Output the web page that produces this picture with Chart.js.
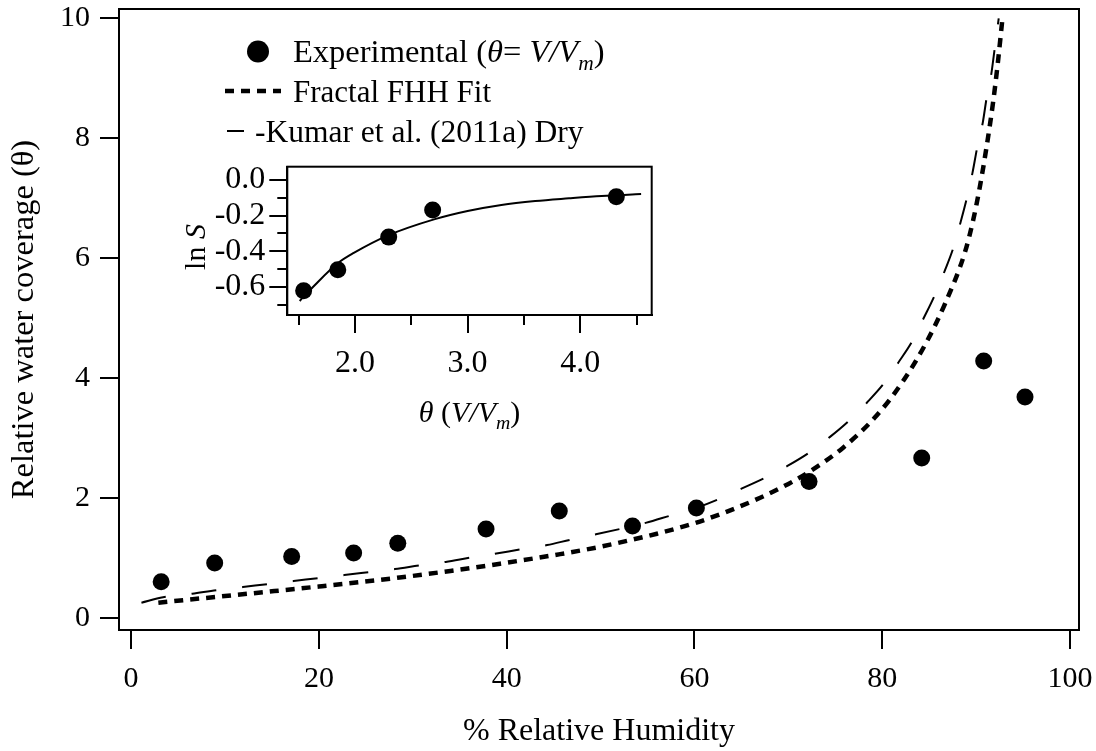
<!DOCTYPE html>
<html>
<head>
<meta charset="utf-8">
<script src="https://cdn.jsdelivr.net/npm/chart.js@4.4.1/dist/chart.umd.min.js"></script>
<style>
  html, body { margin: 0; padding: 0; background: #fff; }
  #wrap { position: relative; width: 1096px; height: 751px; background: #fff; }
  #main { position: absolute; left: 0; top: 0; }
  #inset { position: absolute; left: 160px; top: 150px; }
</style>
</head>
<body>
<div id="wrap">
  <canvas id="main" width="1096" height="751"></canvas>
  <canvas id="inset" width="520" height="290"></canvas>
</div>
<script>
// ---------- main chart data ----------
const rhExp    = [3.2, 8.9, 17.1, 23.7, 28.4, 37.8, 45.6, 53.4, 60.2, 72.2, 84.2, 90.8, 95.2];
const thetaExp = [0.61, 0.92, 1.03, 1.09, 1.25, 1.49, 1.79, 1.54, 1.84, 2.28, 2.67, 4.29, 3.69];

const rhFHH    = [2.9, 8.0, 14.4, 20.0, 28.6, 34.0, 39.3, 45.7, 49.9, 52.8, 56.0, 59.9, 63.0, 67.0, 70.0, 72.3, 75.8, 79.4, 82.2, 84.7, 86.7, 88.8, 89.7, 90.4, 91.1, 91.8, 92.3, 92.8];
const thetaFHH = [0.26, 0.34, 0.44, 0.53, 0.68, 0.79, 0.91, 1.07, 1.19, 1.29, 1.41, 1.58, 1.75, 2.01, 2.24, 2.45, 2.84, 3.38, 3.95, 4.60, 5.25, 6.10, 6.65, 7.20, 7.85, 8.60, 9.25, 10.0];

const rhKumar    = [1.1, 3.4, 6.5, 9.1, 11.9, 14.5, 17.3, 19.9, 22.7, 25.4, 28.1, 30.7, 33.5, 36.1, 38.9, 41.5, 44.3, 46.8, 49.5, 52.1, 54.8, 57.4, 60.2, 62.5, 65.0, 67.5, 69.9, 72.2, 74.4, 76.5, 78.4, 80.2, 81.7, 83.2, 84.4, 85.6, 86.7, 87.6, 88.3, 89.0, 89.6, 90.1, 90.7, 91.1, 91.6, 92.0, 92.4];
const thetaKumar = [0.26, 0.35, 0.41, 0.47, 0.52, 0.57, 0.62, 0.67, 0.72, 0.77, 0.82, 0.88, 0.94, 1.01, 1.08, 1.15, 1.22, 1.31, 1.40, 1.49, 1.59, 1.71, 1.84, 1.98, 2.16, 2.34, 2.54, 2.76, 3.02, 3.30, 3.60, 3.92, 4.26, 4.62, 5.00, 5.39, 5.81, 6.19, 6.58, 7.00, 7.42, 7.84, 8.26, 8.66, 9.06, 9.53, 10.0];

const xTicksMain = [0, 20, 40, 60, 80, 100];
const yTicksMain = [0, 2, 4, 6, 8, 10];

// ---------- inset data ----------
const thetaInset = [1.545, 1.848, 2.30, 2.69, 4.32];
const lnSInset   = [-0.623, -0.505, -0.321, -0.168, -0.094];
const thetaFit   = [1.51, 1.63, 1.85, 1.99, 2.30, 2.71, 3.00, 3.30, 3.60, 3.90, 4.19, 4.54];
const lnSFit     = [-0.68, -0.60, -0.467, -0.41, -0.31, -0.22, -0.174, -0.14, -0.118, -0.103, -0.09, -0.079];

const xTicksInset = [2, 3, 4];
const xMinorInset = [1.5, 2.5, 3.5, 4.5];
const yTicksInset = [0, -0.2, -0.4, -0.6];
const yMinorInset = [-0.1, -0.3, -0.5, -0.7];

// ---------- helpers ----------
const FAM = '"Liberation Serif", "Times New Roman", serif';
const pts = (xs, ys) => xs.map((x, i) => ({ x: x, y: ys[i] }));
const noPad = s => { s.paddingTop = 0; s.paddingBottom = 0; s.paddingLeft = 0; s.paddingRight = 0; };

function drawRich(ctx, x, y, parts, size) {
  let cx = x;
  ctx.textBaseline = 'alphabetic';
  ctx.textAlign = 'left';
  for (const p of parts) {
    const s = p.sub ? size * 0.66 : size;
    ctx.font = (p.it ? 'italic ' : '') + s + 'px ' + FAM;
    ctx.fillText(p.t, cx, y + (p.sub ? size * 0.24 : 0));
    cx += ctx.measureText(p.t).width;
  }
  return cx - x;
}
function richWidth(ctx, parts, size) {
  let w = 0;
  for (const p of parts) {
    const s = p.sub ? size * 0.66 : size;
    ctx.font = (p.it ? 'italic ' : '') + s + 'px ' + FAM;
    w += ctx.measureText(p.t).width;
  }
  return w;
}

const boxPlugin = {
  id: 'box',
  afterDraw(chart) {
    const { ctx, chartArea: a } = chart;
    ctx.save();
    ctx.strokeStyle = '#000';
    ctx.lineWidth = 2;
    ctx.setLineDash([]);
    ctx.strokeRect(a.left, a.top, a.right - a.left, a.bottom - a.top);
    ctx.restore();
  }
};

const legendPlugin = {
  id: 'customLegend',
  afterDraw(chart) {
    const ctx = chart.ctx;
    ctx.save();
    ctx.fillStyle = '#000';
    ctx.strokeStyle = '#000';
    // row 1: dot
    ctx.beginPath();
    ctx.arc(258, 51.5, 11, 0, Math.PI * 2);
    ctx.fill();
    drawRich(ctx, 293, 61.7, [
      { t: 'Experimental (' }, { t: '\u03B8', it: true }, { t: '= ' },
      { t: 'V/V', it: true }, { t: 'm', it: true, sub: true }, { t: ')' }
    ], 32.5);
    // row 2: dotted thick
    ctx.lineWidth = 4.5;
    ctx.setLineDash([9, 7]);
    ctx.beginPath();
    ctx.moveTo(225, 91); ctx.lineTo(281, 91);
    ctx.stroke();
    drawRich(ctx, 293, 101.7, [{ t: 'Fractal FHH Fit' }], 31);
    // row 3: long dash
    ctx.lineWidth = 2;
    ctx.setLineDash([]);
    ctx.beginPath();
    ctx.moveTo(227, 131); ctx.lineTo(244, 131);
    ctx.stroke();
    drawRich(ctx, 255, 141.7, [{ t: '-Kumar et al. (2011a) Dry' }], 31.5);
    ctx.restore();
  }
};

// ---------- main chart ----------
const tickFont = { family: FAM, size: 30 };
new Chart(document.getElementById('main').getContext('2d'), {
  type: 'scatter',
  data: {
    datasets: [
      {
        label: 'Experimental', data: pts(rhExp, thetaExp),
        pointRadius: 8.5, pointHoverRadius: 8.5, backgroundColor: '#000', borderWidth: 0,
        showLine: false, order: 0
      },
      {
        label: 'Fractal FHH Fit', data: pts(rhFHH, thetaFHH),
        showLine: true, borderColor: '#000', borderWidth: 4.5, borderDash: [9, 7],
        borderCapStyle: 'butt', pointRadius: 0, cubicInterpolationMode: 'monotone', order: 1
      },
      {
        label: 'Kumar et al. (2011a) Dry', data: pts(rhKumar, thetaKumar),
        showLine: true, borderColor: '#000', borderWidth: 2, borderDash: [25, 26],
        pointRadius: 0, cubicInterpolationMode: 'monotone', order: 2
      }
    ]
  },
  options: {
    responsive: false, animation: false, devicePixelRatio: 1,
    layout: { padding: { top: 9, right: 17, left: 0, bottom: 0 } },
    plugins: { legend: { display: false }, tooltip: { enabled: false } },
    scales: {
      x: {
        type: 'linear', min: -1.29, max: 100.95,
        afterBuildTicks: s => { s.ticks = xTicksMain.map(v => ({ value: v })); },
        afterFit: s => { s.height = 121; noPad(s); },
        grid: { drawOnChartArea: false, drawTicks: true, tickLength: 19, color: '#000', lineWidth: 2 },
        border: { display: true, color: '#000', width: 2 },
        ticks: { font: tickFont, color: '#000', padding: 12, maxRotation: 0, callback: v => String(v) },
        title: { display: true, text: '% Relative Humidity', font: { family: FAM, size: 32 }, color: '#000', padding: { top: 0, bottom: 0 } }
      },
      y: {
        type: 'linear', min: -0.195, max: 10.155,
        afterBuildTicks: s => { s.ticks = yTicksMain.map(v => ({ value: v })); },
        afterFit: s => { s.width = 119; noPad(s); },
        grid: { drawOnChartArea: false, drawTicks: true, tickLength: 19, color: '#000', lineWidth: 2 },
        border: { display: true, color: '#000', width: 2 },
        ticks: { font: tickFont, color: '#000', padding: 10, callback: v => String(v) },
        title: { display: true, text: 'Relative water coverage (\u03B8)', font: { family: FAM, size: 32.5 }, color: '#000', padding: { top: 5, bottom: 0 } }
      }
    }
  },
  plugins: [boxPlugin, legendPlugin]
});

// ---------- inset chart ----------
const insetExtras = {
  id: 'insetExtras',
  afterDraw(chart) {
    const { ctx, chartArea: a, scales } = chart;
    ctx.save();
    ctx.strokeStyle = '#000';
    ctx.fillStyle = '#000';
    ctx.lineWidth = 2;
    ctx.setLineDash([]);
    // minor ticks
    ctx.beginPath();
    for (const v of xMinorInset) {
      const px = Math.round(scales.x.getPixelForValue(v));
      ctx.moveTo(px, a.bottom); ctx.lineTo(px, a.bottom + 10);
    }
    for (const v of yMinorInset) {
      const py = Math.round(scales.y.getPixelForValue(v));
      ctx.moveTo(a.left, py); ctx.lineTo(a.left - 10, py);
    }
    ctx.stroke();
    // x title: θ (V/Vm)
    const xParts = [
      { t: '\u03B8', it: true }, { t: ' (' }, { t: 'V/V', it: true },
      { t: 'm', it: true, sub: true }, { t: ')' }
    ];
    const w = richWidth(ctx, xParts, 30);
    drawRich(ctx, (a.left + a.right) / 2 - w / 2, 271.7, xParts, 30);
    // y title: ln S (rotated)
    const yParts = [{ t: 'ln ' }, { t: 'S', it: true }];
    const wy = richWidth(ctx, yParts, 30);
    ctx.translate(45, 97);
    ctx.rotate(-Math.PI / 2);
    drawRich(ctx, -wy / 2, 0, yParts, 30);
    ctx.restore();
  }
};

new Chart(document.getElementById('inset').getContext('2d'), {
  type: 'scatter',
  data: {
    datasets: [
      {
        label: 'ln S', data: pts(thetaInset, lnSInset),
        pointRadius: 8.5, pointHoverRadius: 8.5, backgroundColor: '#000', borderWidth: 0,
        showLine: false, order: 0
      },
      {
        label: 'fit', data: pts(thetaFit, lnSFit),
        showLine: true, borderColor: '#000', borderWidth: 2, pointRadius: 0,
        cubicInterpolationMode: 'monotone', order: 1
      }
    ]
  },
  options: {
    responsive: false, animation: false, devicePixelRatio: 1,
    layout: { padding: { top: 16.7, right: 28.3, left: 0, bottom: 0 } },
    plugins: { legend: { display: false }, tooltip: { enabled: false } },
    scales: {
      x: {
        type: 'linear', min: 1.40, max: 4.634,
        afterBuildTicks: s => { s.ticks = xTicksInset.map(v => ({ value: v })); },
        afterFit: s => { s.height = 125; noPad(s); },
        grid: { drawOnChartArea: false, drawTicks: true, tickLength: 18, color: '#000', lineWidth: 2 },
        border: { display: true, color: '#000', width: 2 },
        ticks: { font: { family: FAM, size: 32 }, color: '#000', padding: 11, maxRotation: 0, callback: v => v.toFixed(1) }
      },
      y: {
        type: 'linear', min: -0.759, max: 0.075,
        afterBuildTicks: s => { s.ticks = yTicksInset.map(v => ({ value: v })); },
        afterFit: s => { s.width = 127.3; noPad(s); },
        grid: { drawOnChartArea: false, drawTicks: true, tickLength: 18, color: '#000', lineWidth: 2 },
        border: { display: true, color: '#000', width: 2 },
        ticks: { font: { family: FAM, size: 32 }, color: '#000', padding: 4, callback: v => (Math.abs(v) < 1e-9 ? 0 : v).toFixed(1) }
      }
    }
  },
  plugins: [boxPlugin, insetExtras]
});
</script>
</body>
</html>
